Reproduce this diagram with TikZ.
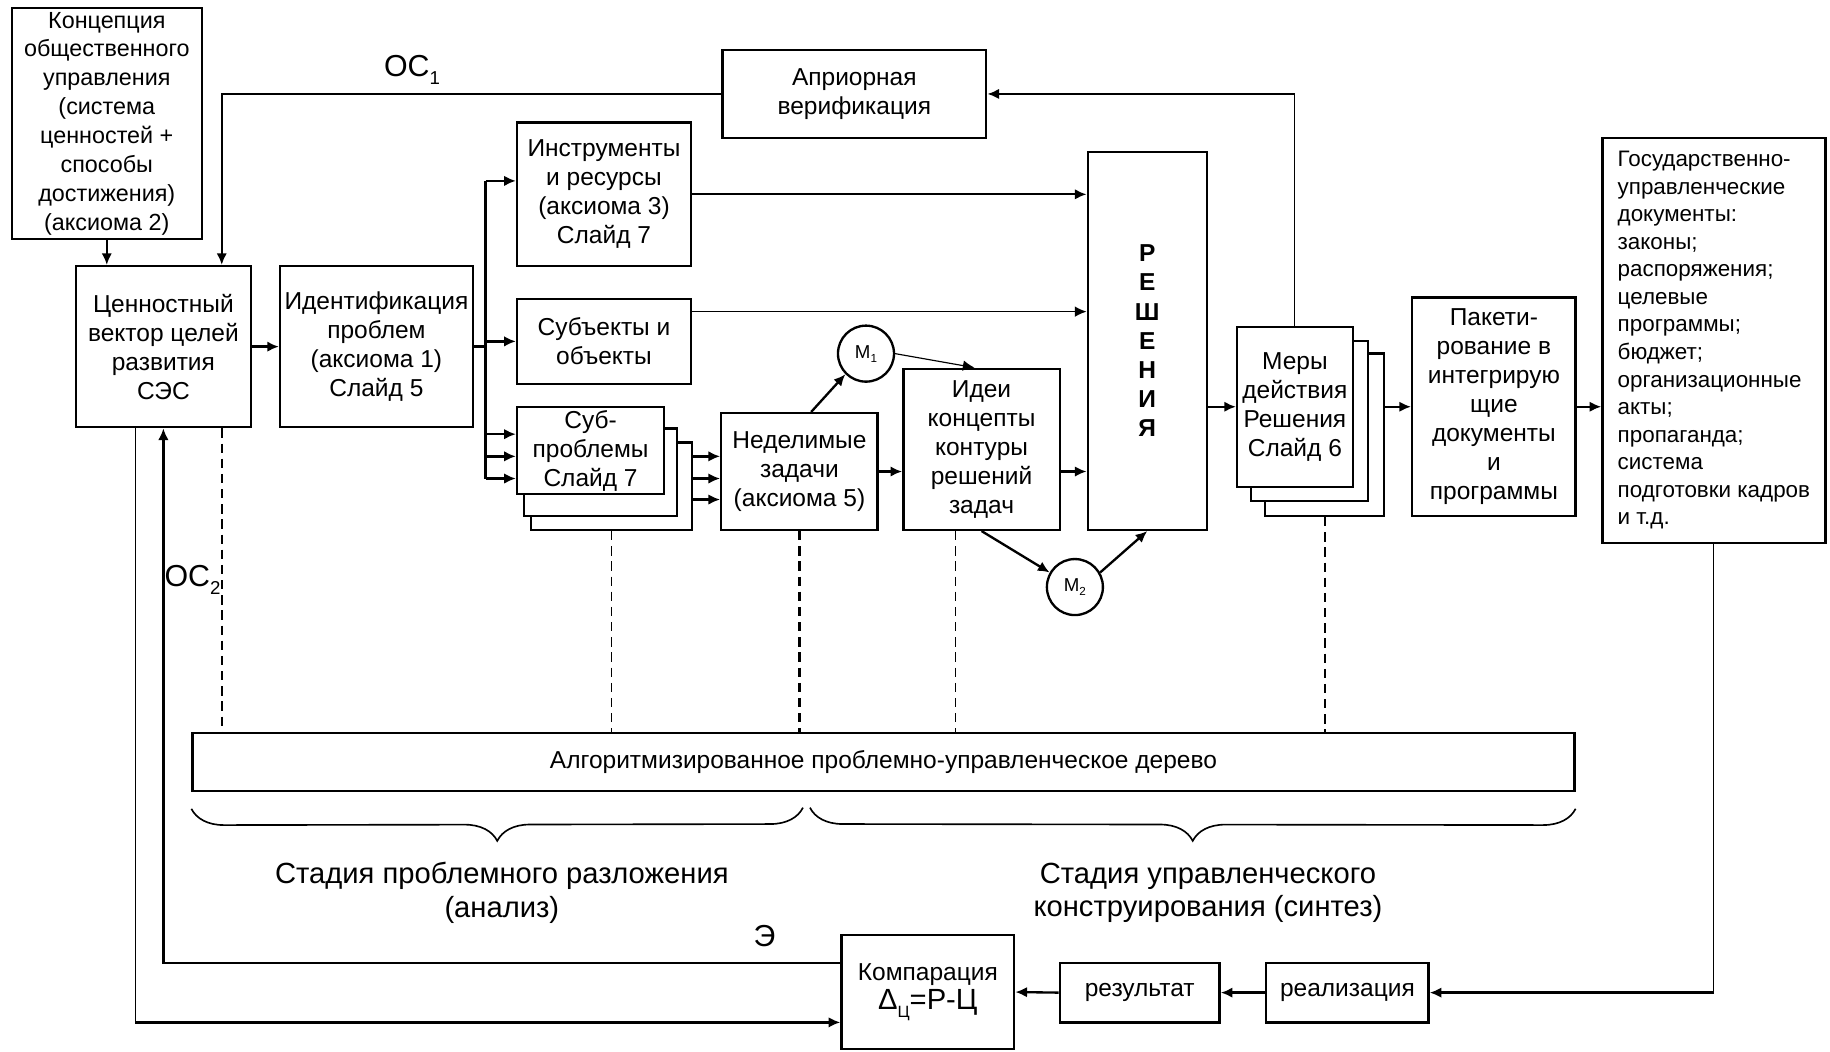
\documentclass[tikz,border=0pt]{standalone}
\usepackage{fontspec}
\setmainfont{Liberation Sans}
\usetikzlibrary{arrows.meta,decorations.pathreplacing}

\begin{document}
\begin{tikzpicture}[x=0.5pt,y=-0.5pt,
    box/.style={draw,line width=1pt,fill=white,align=center,inner sep=1pt,
      font=\fontsize{10.5}{12.4}\selectfont},
    arr/.style={-{Latex[length=5pt,width=4.5pt]},line width=1pt},
    thinarr/.style={-{Latex[length=5pt,width=4.5pt]},line width=0.5pt},
    mcirc/.style={draw,circle,line width=1pt,minimum size=24pt,inner sep=0pt,
      font=\fontsize{8}{9}\selectfont},
    tag/.style={font=\fontsize{13}{15}\selectfont},
    stage/.style={align=center,font=\fontsize{12.5}{14.5}\selectfont},
    dsh/.style={dash pattern=on 4pt off 2.5pt}]
  \useasboundingbox (0,0) rectangle (1568,901);

  \node[box,minimum width=81.5pt,minimum height=99pt,font=\fontsize{10}{12.4}\selectfont] (konc) at (91.5,106)
    {Концепция\\общественного\\управления\\(система\\ценностей +\\способы\\достижения)\\(аксиома 2)};
  \node[box,minimum width=113pt,minimum height=37.5pt] (apr) at (732,80.5) {Априорная\\верификация};
  \node[box,minimum width=75pt,minimum height=69pt] (cenn) at (140,297) {Ценностный\\вектор целей\\развития\\СЭС};
  \node[box,minimum width=82.5pt,minimum height=69pt] (ident) at (322.5,297) {Идентификация\\проблем\\(аксиома 1)\\Слайд 5};
  \node[box,minimum width=74.5pt,minimum height=61.5pt] (instr) at (517.5,166.5) {Инструменты\\и ресурсы\\(аксиома 3)\\Слайд 7};
  \node[box,minimum width=74.5pt,minimum height=36.5pt] (subj) at (517.5,292.5) {Субъекты и\\объекты};
  \node[box,minimum width=69pt,minimum height=37.5pt] (subC) at (524,416.5) {};
  \node[box,minimum width=65.5pt,minimum height=37.5pt] (subB) at (514.5,404.5) {};
  \node[box,minimum width=63pt,minimum height=37pt] (subA) at (506,386) {Суб-\\проблемы\\Слайд 7};
  \node[box,minimum width=67pt,minimum height=50pt] (nedel) at (685,404) {Неделимые\\задачи\\(аксиома 5)};
  \node[mcirc] (m1) at (742,303) {М\raisebox{-0.4ex}{\fontsize{5}{6}\selectfont 1}};
  \node[box,minimum width=67pt,minimum height=69pt] (idei) at (841,385) {Идеи\\концепты\\контуры\\решений\\задач};
  \node[box,minimum width=51pt,minimum height=162pt,font=\bfseries\fontsize{10.5}{12.5}\selectfont] (resh) at (983,292)
    {Р\\Е\\Ш\\Е\\Н\\И\\Я};
  \node[mcirc] (m2) at (921,503) {М\raisebox{-0.4ex}{\fontsize{5}{6}\selectfont 2}};
  \node[box,minimum width=51pt,minimum height=69.5pt] (merC) at (1135,372.5) {};
  \node[box,minimum width=50pt,minimum height=68.5pt] (merB) at (1122,360.5) {};
  \node[box,minimum width=49.5pt,minimum height=68.5pt] (merA) at (1109.5,348.5) {Меры\\действия\\Решения\\Слайд 6};
  \node[box,minimum width=70pt,minimum height=93.5pt] (paket) at (1280,348.5)
    {Пакети-\\рование в\\интегрирую\\щие\\документы\\и\\программы};
  \node[box,minimum width=95.5pt,minimum height=173.5pt,align=left,font=\fontsize{9.6}{11.8}\selectfont] (gos) at (1468.5,291.5)
    {Государственно-\\управленческие\\документы:\\законы;\\распоряжения;\\целевые\\программы;\\бюджет;\\организационные\\акты;\\пропаганда;\\система\\подготовки кадров\\и т.д.};
  \node[box,minimum width=592pt,minimum height=25pt] (algo) at (757,653) {Алгоритмизированное проблемно-управленческое дерево};
  \node[box,minimum width=69.5pt,minimum height=25.5pt] (real) at (1154.5,850.5) {реализация};
  \node[box,minimum width=68.5pt,minimum height=25.5pt] (rez) at (976.5,850.5) {результат};
  \node[box,minimum width=74pt,minimum height=49pt] (komp) at (795,850)
    {Компарация\\{\fontsize{12.5}{14}\selectfont Δ\raisebox{-0.5ex}{\fontsize{7}{8}\selectfont Ц}=Р-Ц}};

  \node[tag] (oc1) at (353,60) {ОС\raisebox{-0.5ex}{\fontsize{8}{9}\selectfont 1}};
  \node[tag] (oc2) at (165,497) {ОС\raisebox{-0.5ex}{\fontsize{8}{9}\selectfont 2}};
  \node[tag] (ee) at (655,802) {Э};
  \node[stage] (st1) at (430,765) {Стадия проблемного разложения\\(анализ)};
  \node[stage] (st2) at (1035,765) {Стадия управленческого\\конструирования (синтез)};

  \draw[arr] (konc.south) -- (konc.south |- cenn.north);
  \draw[arr] (apr.west) -| ([xshift=25pt]cenn.north);
  \draw[line width=0.5pt] (merA.north) -- (merA.north |- apr.east);
  \draw[arr] (merA.north |- apr.east) -- (apr.east);
  \draw[arr] (cenn.east) -- (ident.west);

  \coordinate (tr) at ([xshift=5pt]ident.east);
  \coordinate (tin) at ([yshift=5.75pt]instr.west);
  \draw[line width=1pt] (ident.east) -- (tr);
  \draw[arr] (tr |- tin) -- (tin);
  \draw[arr] (tr |- subj.west) -- (subj.west);
  \foreach \dy [count=\k] in {7,-2.5,-12}{
    \coordinate (sin\k) at ([yshift=\dy pt]subA.west);
    \draw[arr] (tr |- sin\k) -- (sin\k);}
  \draw[line width=1pt] (tr |- tin) -- (tr |- sin3);
  \foreach \dy [count=\k] in {6.5,-3,-12}{
    \coordinate (sout\k) at ([yshift=\dy pt]nedel.west);
    \draw[arr] (subC.east |- sout\k) -- (sout\k);}

  \draw[arr] (nedel.east) -- (nedel.east -| idei.west);
  \draw[arr] ([xshift=5pt]nedel.north) -- (m1.south west);
  \draw[thinarr] (m1.east) -- ([xshift=-3pt]idei.north);
  \draw[arr] (instr.east) -- (instr.east -| resh.west);
  \draw[thinarr] ([yshift=12.75pt]subj.east) -- ([yshift=12.75pt]subj.east -| resh.west);
  \draw[arr] ([yshift=-9.5pt]idei.east) -- ([yshift=-9.5pt]idei.east -| resh.west);
  \draw[arr] (idei.south) -- (m2.150);
  \draw[arr] (m2.30) -- (resh.south);
  \draw[arr] (merA.west -| resh.east) -- (merA.west);
  \draw[arr] (paket.west -| merC.east) -- (paket.west);
  \draw[arr] (paket.east) -- (paket.east -| gos.west);

  \draw[line width=0.5pt] (gos.south) -- (gos.south |- real.east);
  \draw[arr] (gos.south |- real.east) -- (real.east);
  \draw[arr] (real.west) -- (rez.east);
  \draw[arr] (rez.west) -- (komp.east);
  \coordinate (kout) at ([yshift=12.5pt]komp.west);
  \coordinate (kin) at ([yshift=-13pt]komp.west);
  \draw[arr] (kout) -| (cenn.south);
  \draw[line width=0.5pt] ([xshift=-12pt]cenn.south) -- ([xshift=-12pt]cenn.south |- kin);
  \draw[arr] ([xshift=-12pt]cenn.south |- kin) -- (kin);

  \draw[dsh,line width=1pt] ([xshift=25pt]cenn.south) -- ([xshift=25pt]cenn.south |- algo.north);
  \draw[dsh,line width=0.5pt] (subC.south) -- (subC.south |- algo.north);
  \draw[dsh,line width=1pt] (nedel.south) -- (nedel.south |- algo.north);
  \draw[dsh,line width=0.5pt] ([xshift=-11pt]idei.south) -- ([xshift=-11pt]idei.south |- algo.north);
  \draw[dsh,line width=1pt] (merC.south) -- (merC.south |- algo.north);

  \coordinate (b1) at ([yshift=-7pt]algo.south west);
  \coordinate (b2) at (688,692);
  \coordinate (b3) at (694,692);
  \coordinate (b4) at ([yshift=-7pt]algo.south east);
  \draw[decorate,decoration={brace,mirror,amplitude=14pt},line width=0.7pt] (b1) -- (b2);
  \draw[decorate,decoration={brace,mirror,amplitude=14pt},line width=0.7pt] (b3) -- (b4);
\end{tikzpicture}
\end{document}
